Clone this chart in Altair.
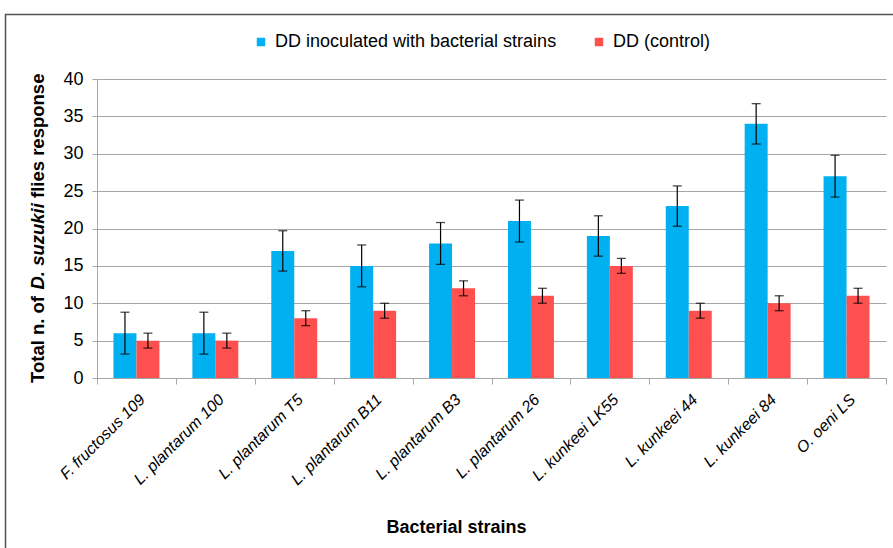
import altair as alt
import pandas as pd

strains = ["F. fructosus 109", "L. plantarum 100", "L. plantarum T5", "L. plantarum B11",
           "L. plantarum B3", "L. plantarum 26", "L. kunkeei LK55", "L. kunkeei 44",
           "L. kunkeei 84", "O. oeni LS"]
series_names = ["DD inoculated with bacterial strains", "DD (control)"]
inoculated = [6, 6, 17, 15, 18, 21, 19, 23, 34, 27]
inoculated_err = [2.8, 2.8, 2.7, 2.8, 2.8, 2.8, 2.7, 2.7, 2.7, 2.8]
control = [5, 5, 8, 9, 12, 11, 15, 9, 10, 11]
control_err = [1, 1, 1, 1, 1, 1, 1, 1, 1, 1]
colors = ["#00B0F0", "#FF5050"]
y_ticks = [0, 5, 10, 15, 20, 25, 30, 35, 40]
y_title_parts = ["Total n. of", "D. suzukii", "flies response"]

rows = []
for name, vals, errs in [(series_names[0], inoculated, inoculated_err),
                         (series_names[1], control, control_err)]:
    for s, v, e in zip(strains, vals, errs):
        rows.append({"strain": s, "series": name, "value": v, "lo": v - e, "hi": v + e})
df = pd.DataFrame(rows)

FONT = "Liberation Sans"
GRID = "#a6a6a6"

x_enc = alt.X("strain:N", sort=strains,
              scale=alt.Scale(paddingInner=0, paddingOuter=0),
              axis=alt.Axis(title="Bacterial strains", labelAngle=315, labelFontStyle="italic",
                            labelFontSize=16, labelColor="black", labelPadding=7,
                            tickBand="extent", tickColor=GRID, tickSize=6, domainColor=GRID,
                            titleFontSize=18, titleFontWeight="bold", titleColor="black",
                            titleX=359, titleY=149, titleBaseline="middle", titleAnchor="middle",
                            titleAlign="center"))
xo_enc = alt.XOffset("series:N", sort=series_names,
                     scale=alt.Scale(domain=series_names, paddingInner=0, paddingOuter=0.717))
y_axis = alt.Axis(title="", values=y_ticks, grid=True, gridColor=GRID, domainColor=GRID,
                  tickColor=GRID, tickSize=5, labelFontSize=18, labelColor="black",
                  labelPadding=9)
y_scale = alt.Scale(domain=[0, 40], nice=False)

base = alt.Chart(df)

bars = base.mark_bar().encode(
    x=x_enc, xOffset=xo_enc,
    y=alt.Y("value:Q", scale=y_scale, axis=y_axis),
    color=alt.Color("series:N", sort=series_names,
                    scale=alt.Scale(domain=series_names, range=colors),
                    legend=alt.Legend(title=None, orient="none", direction="horizontal",
                                      legendX=155, legendY=-46, symbolType="square",
                                      symbolSize=72, symbolStrokeWidth=0, labelFontSize=18,
                                      labelColor="black", labelLimit=500, labelOffset=5,
                                      columnPadding=33)),
)

err_lines = base.mark_rule(color="black", strokeWidth=1.2).encode(
    x=x_enc, xOffset=xo_enc,
    y=alt.Y("lo:Q", scale=y_scale, axis=y_axis), y2="hi:Q",
)
caps_hi = base.mark_tick(color="black", thickness=1.3, size=9).encode(
    x=x_enc, xOffset=xo_enc, y=alt.Y("hi:Q", scale=y_scale, axis=y_axis),
)
caps_lo = base.mark_tick(color="black", thickness=1.3, size=9).encode(
    x=x_enc, xOffset=xo_enc, y=alt.Y("lo:Q", scale=y_scale, axis=y_axis),
)

ytitle_layers = []
positions = [304, 210.5, 119]
styles = ["normal", "italic", "normal"]
for part, pos, st in zip(y_title_parts, positions, styles):
    ytitle_layers.append(
        alt.Chart(pd.DataFrame({"t": [part]})).mark_text(
            angle=270, align="left", baseline="middle", fontSize=18.5, fontWeight="bold",
            fontStyle=st, color="black", font=FONT
        ).encode(text="t:N", x=alt.value(-59), y=alt.value(pos))
    )

frame = alt.Chart(pd.DataFrame({"a": [0]})).mark_rect(
    fill=None, stroke="#505050", strokeWidth=1.5
).encode(x=alt.value(-91.5), x2=alt.value(830), y=alt.value(-64.5), y2=alt.value(520))

chart = alt.layer(frame, bars, err_lines, caps_hi, caps_lo, *ytitle_layers).properties(
    width=789, height=299,
    autosize=alt.AutoSizeParams(type="none"),
    padding={"left": 97, "top": 79, "right": 7, "bottom": 170},
    background="white",
).configure(font=FONT).configure_view(stroke=None)

chart.save("out.html", embed_options={"renderer": "svg", "actions": False})
